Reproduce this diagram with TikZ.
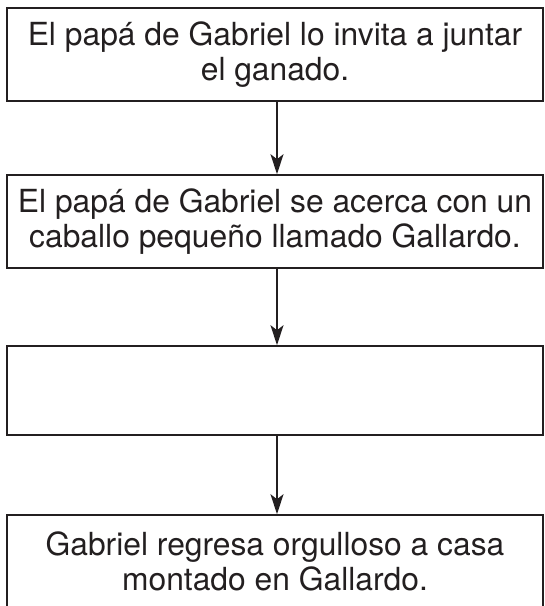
\documentclass[tikz,border=0pt]{standalone}
\usepackage{fontspec}
\setmainfont{TeX Gyre Heros}
\usetikzlibrary{arrows.meta}
\definecolor{ink}{HTML}{231F20}
\begin{document}
\begin{tikzpicture}[x=1bp,y=-1bp,
  stepbox/.style={draw=ink, line width=1.6bp, minimum width=536bp, inner sep=0pt,
    align=center, text=ink, font=\fontsize{31.8bp}{35bp}\selectfont},
  arr/.style={draw=ink, line width=1.6bp, -{Stealth[length=20bp,width=13bp,inset=5bp]}}]
  \useasboundingbox (0,0) rectangle (545,606);
  \node[stepbox, minimum height=93bp] (b1) at (275,54.5) {El papá de Gabriel lo invita a juntar\\el ganado.};
  \node[stepbox, minimum height=93bp] (b2) at (275,221.5) {El papá de Gabriel se acerca con un\\caballo pequeño llamado Gallardo.};
  \node[stepbox, minimum height=89bp] (b3) at (275,390.5) {};
  \node[stepbox, minimum height=93bp] (b4) at (275,561.5) {Gabriel regresa orgulloso a casa\\montado en Gallardo.};
  \draw[arr] ([xshift=2bp]b1.south) -- ([xshift=2bp]b2.north);
  \draw[arr] ([xshift=2bp]b2.south) -- ([xshift=2bp]b3.north);
  \draw[arr] ([xshift=2bp]b3.south) -- ([xshift=2bp]b4.north);
\end{tikzpicture}
\end{document}
